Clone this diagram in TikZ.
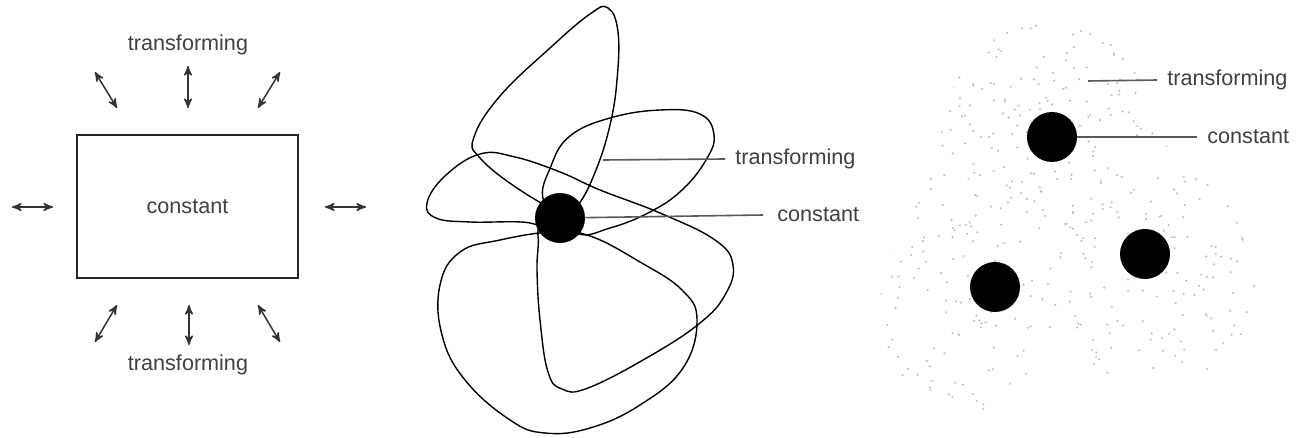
\documentclass[tikz,border=0pt]{standalone}
\usepackage{fontspec}
\setmainfont{Liberation Sans}
\usetikzlibrary{arrows}

\begin{document}
\begin{tikzpicture}[x=0.5pt,y=-0.5pt,
  lbl/.style={text=black!75, font=\fontsize{10.8}{12}\selectfont, inner sep=0pt},
  dot/.style={circle, fill=black, minimum size=25pt, inner sep=0pt},
  leader/.style={black!65, line width=0.8pt},
  twoway/.style={<->, >=stealth', black!80, line width=0.75pt},
  orbit/.style={line width=0.7pt}]
	\useasboundingbox (0,0) rectangle (1305,438);
	% fixed shape with changing surroundings
	\node[draw=black!85, line width=1.1pt, minimum width=110.5pt, minimum height=71.5pt, lbl] (box) at (187.5,206.5) {constant};
	\node[lbl] (topt) at (188,45) {transforming};
	\node[lbl] (bott) at (188,365) {transforming};
	\draw[twoway](95,72) -- (117,108);
	\draw[twoway](188,66) -- (188,108);
	\draw[twoway](280,72) -- (258,108);
	\draw[twoway](117,305) -- (95,342);
	\draw[twoway](189,305) -- (189,345);
	\draw[twoway](258,305) -- (280,342);
	\draw[twoway](12,207) -- (53,207);
	\draw[twoway](325,207) -- (366,207);
	% loops round one fixed point
	\draw[orbit] plot[smooth cycle, tension=0.7] coordinates {(562,212) (520,190) (480,158) (474,137) (500,96) (550,48) (590,14) (608,8) (618,32) (617,80) (610,125) (596,170) (578,205)};
	\draw[orbit] plot[smooth cycle, tension=0.7] coordinates {(427,203) (445,176) (480,154) (515,157) (560,172) (600,190) (660,213) (715,240) (733,265) (725,295) (700,323) (650,356) (588,388) (562,389) (548,372) (540,320) (537,270) (538,236) (530,223) (470,222) (436,218)};
	\draw[orbit] plot[smooth cycle, tension=0.7] coordinates {(544,202) (551,166) (570,136) (610,118) (660,110) (700,114) (714,135) (706,160) (682,190) (650,212) (610,228) (576,233)};
	\draw[orbit] plot[smooth cycle, tension=0.7] coordinates {(552,232) (500,240) (460,252) (440,285) (442,335) (465,380) (510,420) (545,433) (590,428) (640,405) (683,368) (697,320) (682,290) (640,262) (590,236)};
	\node[dot] (mid) at (560,218) {};
	\coordinate (midt) at (603,160);
	\node[lbl, anchor=west] (midtl) at (735,159) {transforming};
	\node[lbl, anchor=west] (midcl) at (777,215) {constant};
	\draw[leader](midt) -- ([xshift=-5pt]midtl.west);
	\draw[leader](mid) -- ([xshift=-7pt]midcl.west);
	% fixed points in a changing field
	\begin{scope}
		\clip plot[smooth cycle, tension=0.8] coordinates {(880,300) (900,225) (935,150) (965,65) (1020,28) (1090,30) (1130,62) (1155,130) (1205,180) (1252,232) (1255,300) (1222,360) (1150,382) (1060,372) (1000,410) (930,402) (884,352)};
		\pgfmathsetseed{11}
		\foreach \i in {1,...,600}{
			\pgfmathsetmacro\rx{875+385*rnd}
			\pgfmathsetmacro\ry{25+390*rnd}
			\fill[black!25] (\rx,\ry) circle (0.6pt);
		}
	\end{scope}
	\node[dot] (fa) at (1052,137) {};
	\node[dot] (fb) at (1145,254) {};
	\node[dot] (fc) at (995,287) {};
	\coordinate (rtt) at (1088,81);
	\node[lbl, anchor=west] (rttl) at (1167,80) {transforming};
	\node[lbl, anchor=west] (rtcl) at (1207,137) {constant};
	\draw[leader](rtt) -- ([xshift=-5pt]rttl.west);
	\draw[leader](fa) -- ([xshift=-5pt]rtcl.west);
\end{tikzpicture}
\end{document}
